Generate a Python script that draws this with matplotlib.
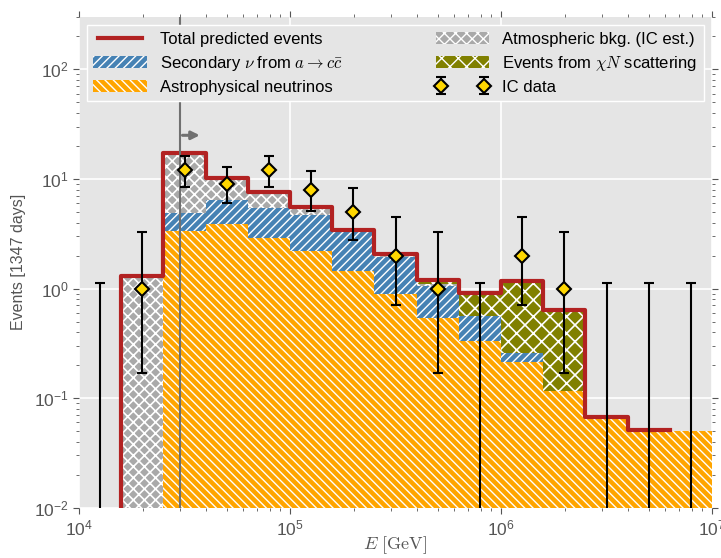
import numpy as np
import matplotlib
matplotlib.use('Agg')
import matplotlib.pyplot as plt

plt.rcParams['font.family'] = ['Liberation Sans', 'DejaVu Sans']
plt.rcParams['mathtext.fontset'] = 'cm'

# log10(E/GeV) bin edges, 0.2 decade bins from 10^4 to 10^7
log_edges = [4.0, 4.2, 4.4, 4.6, 4.8, 5.0, 5.2, 5.4, 5.6, 5.8, 6.0, 6.2, 6.4, 6.6, 6.8, 7.0]
log_centers = [4.1, 4.3, 4.5, 4.7, 4.9, 5.1, 5.3, 5.5, 5.7, 5.9, 6.1, 6.3, 6.5, 6.7, 6.9]

astro = [0.0, 0.0, 3.32, 3.87, 2.87, 2.21, 1.46, 0.89, 0.537, 0.33, 0.212, 0.117, 0.0667, 0.0515, 0.0504]
secondary = [0.0, 0.0, 1.52, 2.57, 2.61, 2.47, 1.79, 1.06, 0.52, 0.226, 0.046, 0.0, 0.0, 0.0, 0.0]
atmospheric = [0.0, 1.29, 12.4, 3.86, 2.14, 0.88, 0.17, 0.1, 0.05, 0.01, 0.0, 0.0, 0.0, 0.0, 0.0]
chi_n = [0.0, 0.0, 0.0, 0.0, 0.0, 0.0, 0.0, 0.0, 0.1, 0.34, 0.92, 0.52, 0.0, 0.0, 0.0]

# IceCube data (1347 days)
ic_counts = [0, 1, 12, 9, 12, 8, 5, 2, 1, 0, 2, 1, 0, 0, 0]
ic_low = [0, 0.17, 8.5, 6.0, 8.5, 5.1, 2.8, 0.70, 0.17, 0, 0.70, 0.17, 0, 0, 0]
ic_high = [1.13, 3.3, 16.2, 12.9, 16.2, 11.7, 8.2, 4.5, 3.3, 1.13, 4.5, 3.3, 1.13, 1.13, 1.13]

e_threshold = 3e4

edges = 10 ** np.array(log_edges)
centers = 10 ** np.array(log_centers)
widths = np.diff(edges)
floor = 1e-4

astro = np.array(astro)
secondary = np.array(secondary)
atmospheric = np.array(atmospheric)
chi_n = np.array(chi_n)

fig = plt.figure(figsize=(7.21, 5.58), dpi=100)
ax = fig.add_axes([0.1096, 0.0901, 0.878, 0.8794])
ax.set_facecolor('#e5e5e5')
ax.set_xscale('log')
ax.set_yscale('log')

b1 = floor
ax.bar(edges[:-1], astro, width=widths, bottom=b1, align='edge', color='#ffa500',
       edgecolor='white', linewidth=0, hatch='\\\\\\\\', label='Astrophysical neutrinos', zorder=2)
b2 = b1 + astro
ax.bar(edges[:-1], secondary, width=widths, bottom=b2, align='edge', color='#4682b4',
       edgecolor='white', linewidth=0, hatch='////', label=r'Secondary $\nu$ from $a \to c\bar{c}$', zorder=2)
b3 = b2 + secondary
with plt.rc_context({'hatch.linewidth': 1.2}):
    ax.bar(edges[:-1], atmospheric, width=widths, bottom=b3, align='edge', color='#a9a9a9',
           edgecolor='white', linewidth=0, hatch='xxx', label='Atmospheric bkg. (IC est.)', zorder=2)
b4 = b3 + atmospheric
with plt.rc_context({'hatch.linewidth': 1.2}):
    ax.bar(edges[:-1], chi_n, width=widths, bottom=b4, align='edge', color='#808000',
           edgecolor='white', linewidth=0, hatch='xx', label=r'Events from $\chi N$ scattering', zorder=2)

total = astro + secondary + atmospheric + chi_n
# red histogram spans 10^4.2 .. 10^6.8
xs = np.concatenate([[edges[1]], edges[1:15]])
ys = np.concatenate([[floor], total[1:14], [total[13]]])
ax.step(xs, ys, where='post', color='#b22222', lw=3, label='Total predicted events', zorder=3)

ax.axvline(e_threshold, color='#707070', lw=1.5, zorder=3)
ax.annotate('', xy=(3.85e4, 25), xytext=(e_threshold, 25),
            arrowprops=dict(arrowstyle='-|>', color='#707070', lw=2.2, mutation_scale=12), zorder=3)

counts = np.array(ic_counts, dtype=float)
low = np.array(ic_low)
high = np.array(ic_high)
has = counts > 0
ax.errorbar(centers[has], counts[has], yerr=[counts[has] - low[has], high[has] - counts[has]],
            fmt='D', color='black', mfc='#ffd700', mec='black', ms=7.5, mew=1.5,
            elinewidth=1.5, capsize=3.5, capthick=1.5, label='IC data', zorder=4)
zero = ~has
ax.errorbar(centers[zero], np.full(zero.sum(), floor), yerr=[np.zeros(zero.sum()), high[zero] - floor],
            fmt='none', ecolor='black', elinewidth=1.5, capsize=3.5, capthick=1.5, zorder=4)

ax.set_xlim(1e4, 1e7)
ax.set_ylim(1e-2, 300)
ax.grid(True, which='major', color='white', lw=1.2, zorder=0)
ax.set_axisbelow(True)
for s in ax.spines.values():
    s.set_visible(False)
ax.tick_params(which='both', direction='out', top=True, right=True, colors='#555555', labelsize=12.5)
ax.tick_params(which='major', length=4)
ax.tick_params(which='minor', length=2)

ax.set_xlabel(r'$E\ [\mathrm{GeV}]$', fontsize=13, color='#555555', labelpad=-3)
ax.set_ylabel('Events [1347 days]', fontsize=11.5, color='#555555', labelpad=6)

h, l = ax.get_legend_handles_labels()
order = ['Total predicted events', r'Secondary $\nu$ from $a \to c\bar{c}$', 'Astrophysical neutrinos',
         'Atmospheric bkg. (IC est.)', r'Events from $\chi N$ scattering', 'IC data']
hd = dict(zip(l, h))
leg = ax.legend([hd[k] for k in order], order, ncol=2, loc='upper left', mode='expand',
                bbox_to_anchor=(0.012, 0.823, 0.975, 0.161), borderaxespad=0, fontsize=12,
                numpoints=2, handlelength=3.2, handleheight=0.7, labelspacing=0.42,
                handletextpad=0.8, fancybox=False, framealpha=1)
leg.get_frame().set_facecolor('#e5e5e5')
leg.get_frame().set_edgecolor('white')

plt.savefig('out.png', dpi=100)
